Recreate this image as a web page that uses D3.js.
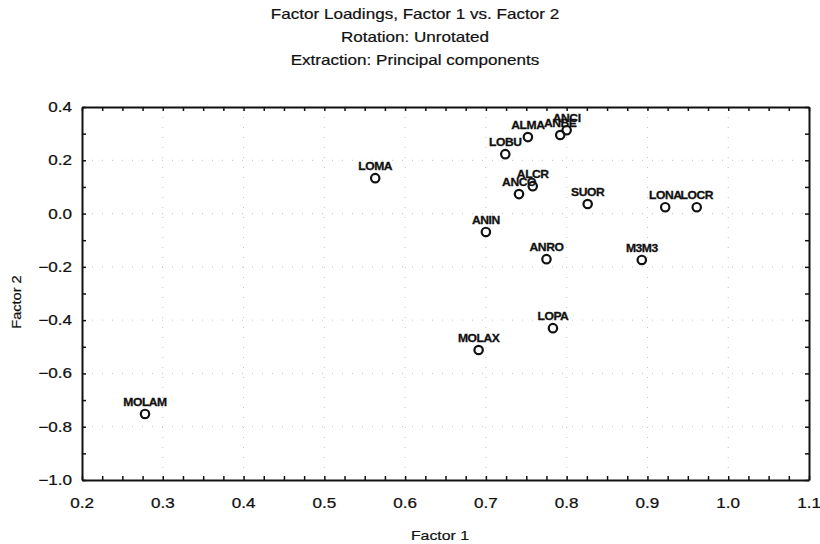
<!DOCTYPE html>
<html>
<head>
<meta charset="utf-8">
<script src="https://cdn.jsdelivr.net/npm/d3@7/dist/d3.min.js"></script>
<style>
  html, body { margin: 0; padding: 0; background: #fff; }
  svg { display: block; }
  text { font-family: "Liberation Sans", Arial, sans-serif; fill: #111; }
</style>
</head>
<body>
<script>
// Variable names and their loadings on the first two factors
const variables = ["MOLAM", "LOMA", "LOBU", "ALMA", "ANBE", "ANCI", "ALCR", "ANCO",
                   "SUOR", "LONA", "LOCR", "M3M3", "ANIN", "ANRO", "LOPA", "MOLAX"];
const factor1 = [0.278, 0.563, 0.724, 0.752, 0.792, 0.800, 0.758, 0.741,
                 0.826, 0.922, 0.961, 0.893, 0.700, 0.775, 0.783, 0.691];
const factor2 = [-0.752, 0.133, 0.223, 0.287, 0.295, 0.313, 0.103, 0.073,
                 0.036, 0.024, 0.024, -0.174, -0.069, -0.171, -0.430, -0.512];

const xTicks = [0.2, 0.3, 0.4, 0.5, 0.6, 0.7, 0.8, 0.9, 1.0, 1.1];
const yTicks = [0.4, 0.2, 0.0, -0.2, -0.4, -0.6, -0.8, -1.0];

const titleLines = ["Factor Loadings, Factor 1 vs. Factor 2",
                    "Rotation: Unrotated",
                    "Extraction: Principal components"];

(function draw() {
  const W = 820, H = 544;
  const pLeft = 82, pRight = 809, pTop = 107, pBottom = 480;
  const stretch = 1.22; // the typeface here is set slightly wide

  const svg = d3.select("body").append("svg").attr("width", W).attr("height", H);

  const x = d3.scaleLinear().domain([0.2, 1.1]).range([pLeft, pRight]);
  const y = d3.scaleLinear().domain([-1.0, 0.4]).range([pBottom, pTop]);

  const place = (tx, ty, sx) => `translate(${tx},${ty}) scale(${sx},1)`;

  // Titles
  svg.selectAll("text.title").data(titleLines).join("text")
    .attr("class", "title")
    .attr("transform", (d, i) => place(415, 19 + i * 23, stretch))
    .attr("text-anchor", "middle")
    .style("font-size", "14px")
    .style("stroke", "#111").style("stroke-width", 0.2)
    .text(d => d);

  // Sparse dotted grid at major ticks
  const grid = svg.append("g").attr("stroke", "#aaa").attr("stroke-width", 1)
    .attr("stroke-dasharray", "1,9").attr("opacity", 0.7);
  grid.selectAll("line.gx").data(xTicks.slice(1, -1)).join("line")
    .attr("class", "gx")
    .attr("x1", d => x(d)).attr("x2", d => x(d)).attr("y1", pTop).attr("y2", pBottom);
  grid.selectAll("line.gy").data(yTicks.slice(1, -1)).join("line")
    .attr("class", "gy")
    .attr("y1", d => y(d)).attr("y2", d => y(d)).attr("x1", pLeft).attr("x2", pRight);

  // Frame with inward ticks on every side
  const minorX = d3.range(0, 37).map(i => 0.2 + i * 0.025);
  const minorY = d3.range(0, 15).map(i => -1.0 + i * 0.1);

  const bottomAxis = d3.axisBottom(x).tickValues(minorX).tickSize(-4).tickSizeOuter(0).tickFormat("");
  const topAxis = d3.axisTop(x).tickValues(minorX).tickSize(-4).tickSizeOuter(0).tickFormat("");
  const leftAxis = d3.axisLeft(y).tickValues(minorY).tickSize(-4).tickSizeOuter(0).tickFormat("");
  const rightAxis = d3.axisRight(y).tickValues(minorY).tickSize(-4).tickSizeOuter(0).tickFormat("");

  function styleAxis(g) {
    g.selectAll("path.domain").attr("stroke", "#111").attr("stroke-width", 2);
    g.selectAll(".tick line").attr("stroke", "#111").attr("stroke-width", 1.5);
  }
  svg.append("g").attr("transform", `translate(0,${pBottom})`).call(bottomAxis).call(styleAxis);
  svg.append("g").attr("transform", `translate(0,${pTop})`).call(topAxis).call(styleAxis);
  svg.append("g").attr("transform", `translate(${pLeft},0)`).call(leftAxis).call(styleAxis);
  svg.append("g").attr("transform", `translate(${pRight},0)`).call(rightAxis).call(styleAxis);

  // Tick labels
  svg.selectAll("text.xt").data(xTicks).join("text")
    .attr("class", "xt")
    .attr("transform", d => place(x(d), 508, stretch))
    .attr("text-anchor", "middle")
    .style("font-size", "14px")
    .style("stroke", "#111").style("stroke-width", 0.25)
    .text(d => d3.format(".1f")(d));
  svg.selectAll("text.yt").data(yTicks).join("text")
    .attr("class", "yt")
    .attr("transform", d => place(72, y(d) + 5, stretch))
    .attr("text-anchor", "end")
    .style("font-size", "14px")
    .style("stroke", "#111").style("stroke-width", 0.25)
    .text(d => d3.format(".1f")(d));

  // Axis titles
  svg.append("text").attr("transform", place(440, 540, stretch)).attr("text-anchor", "middle")
    .style("font-size", "13px").style("stroke", "#111").style("stroke-width", 0.2)
    .text("Factor 1");
  svg.append("text").attr("transform", "translate(21,302) rotate(-90) scale(1.12,1)")
    .attr("text-anchor", "middle")
    .style("font-size", "13px").style("stroke", "#111").style("stroke-width", 0.2)
    .text("Factor 2");

  // Points and their labels
  const pts = variables.map((v, i) => ({ name: v, f1: factor1[i], f2: factor2[i] }));
  const pg = svg.append("g");
  pg.selectAll("circle").data(pts).join("circle")
    .attr("cx", d => x(d.f1)).attr("cy", d => y(d.f2)).attr("r", 4.2)
    .attr("fill", "none").attr("stroke", "#111").attr("stroke-width", 2.2);
  pg.selectAll("text").data(pts).join("text")
    .attr("transform", d => place(x(d.f1), y(d.f2) - 8, 1.1))
    .attr("text-anchor", "middle")
    .style("font-size", "11px").style("font-weight", "bold").style("letter-spacing", "-0.4px")
    .style("stroke", "#111").style("stroke-width", 0.3)
    .text(d => d.name);
})();
</script>
</body>
</html>
